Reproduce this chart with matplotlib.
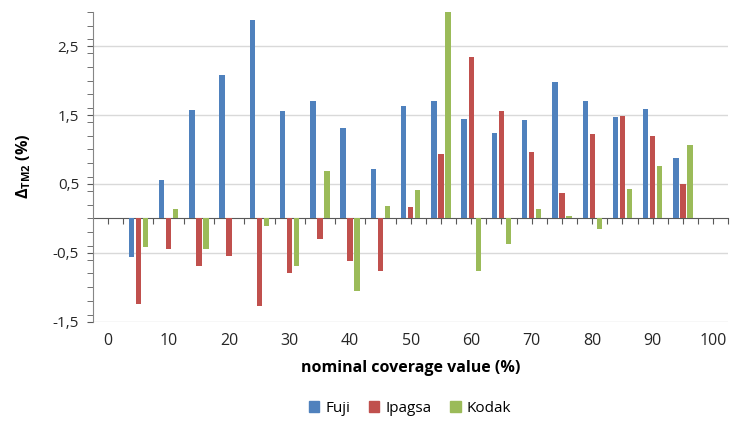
import numpy as np
import matplotlib
matplotlib.use("Agg")
import matplotlib.pyplot as plt
from matplotlib.ticker import FuncFormatter, MultipleLocator, NullFormatter
from matplotlib.patches import Patch

plt.rcParams['font.family'] = ['Open Sans', 'DejaVu Sans']
plt.rcParams['mathtext.fontset'] = 'custom'
plt.rcParams['mathtext.rm'] = 'Open Sans'
plt.rcParams['mathtext.bf'] = 'Open Sans:bold'

coverage = [5, 10, 15, 20, 25, 30, 35, 40, 45, 50, 55, 60, 65, 70, 75, 80, 85, 90, 95]
fuji = [-0.56, 0.55, 1.58, 2.08, 2.88, 1.56, 1.71, 1.31, 0.72, 1.63,
        1.71, 1.45, 1.24, 1.43, 1.98, 1.71, 1.47, 1.59, 0.88]
ipagsa = [-1.24, -0.45, -0.70, -0.55, -1.28, -0.80, -0.30, -0.62, -0.77, 0.17,
          0.93, 2.35, 1.56, 0.97, 0.37, 1.23, 1.49, 1.19, 0.50]
kodak = [-0.41, 0.14, -0.45, 0.0, -0.11, -0.69, 0.69, -1.05, 0.18, 0.41,
         3.0, -0.77, -0.38, 0.14, 0.04, -0.16, 0.43, 0.76, 1.07]
series = ["Fuji", "Ipagsa", "Kodak"]
colors = ["#4F81BD", "#C0504D", "#9BBB59"]

fig = plt.figure(figsize=(7.32, 4.22), dpi=100)
ax = fig.add_axes([0.127, 0.238, 0.868, 0.734])

x = np.array(coverage, dtype=float)
step = 1.16
width = 0.88
for i, (vals, c) in enumerate(zip([fuji, ipagsa, kodak], colors)):
    ax.bar(x + (i - 1) * step, vals, width=width, color=c, zorder=3)

ax.set_xlim(-2.5, 102.5)
ax.set_ylim(-1.5, 3.0)

# y axis
ax.set_yticks([-1.5, -0.5, 0.5, 1.5, 2.5])
ax.yaxis.set_minor_locator(MultipleLocator(0.2))
ax.yaxis.set_major_formatter(FuncFormatter(lambda v, p: f"{v:.1f}".replace(".", ",")))
ax.tick_params(axis='y', which='both', direction='out', length=4, color='#595959',
               labelsize=11, labelcolor='#262626', pad=6)
ax.grid(axis='y', which='major', color='#D9D9D9', linewidth=1, zorder=0)

# x labels at bottom, no marks there
ax.set_xticks(range(0, 101, 10))
ax.tick_params(axis='x', length=0, labelsize=11.5, labelcolor='#262626', pad=8)

for s in ['top', 'right', 'bottom']:
    ax.spines[s].set_visible(False)
ax.spines['left'].set_color('#868686')

# category line at zero with its own tick marks
sec = ax.secondary_xaxis(1.5 / 4.5)
sec.set_xticks(np.arange(0, 102.6, 2.5))
sec.xaxis.set_major_formatter(NullFormatter())
sec.tick_params(axis='x', direction='out', length=4, color='#595959')
sec.spines['bottom'].set_color('#595959')

ax.set_xlabel("nominal coverage value (%)", fontsize=11.5, fontweight='bold', labelpad=8)
ax.set_ylabel(r"$\mathbf{\Delta}_{\mathbf{TM2}}$ (%)", fontsize=11.5, fontweight='bold', labelpad=14)

handles = [Patch(color=c, label=s) for c, s in zip(colors, series)]
fig.legend(handles=handles, loc='center', bbox_to_anchor=(0.56, 0.033), ncol=3,
           frameon=False, fontsize=11, handlelength=0.7, handleheight=0.7,
           handletextpad=0.4, columnspacing=1.2)

fig.savefig("out.png", dpi=100)
